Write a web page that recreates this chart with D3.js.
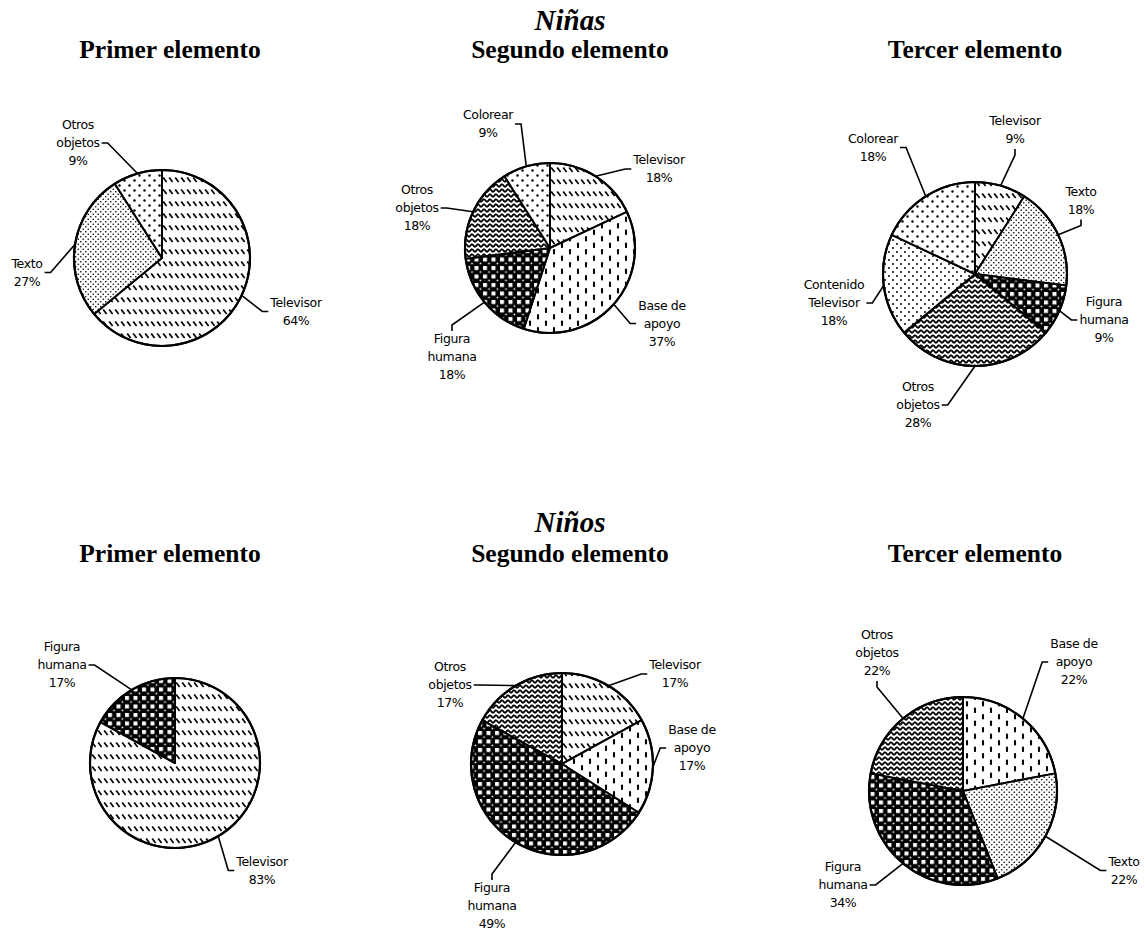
<!DOCTYPE html>
<html>
<head>
<meta charset="utf-8">
<script src="https://cdn.jsdelivr.net/npm/d3@7"></script>
<style>
  body { margin: 0; background: #fff; }
  svg { display: block; }
</style>
</head>
<body>
<svg id="chart" width="1145" height="930"></svg>
<script>
// ---- Data: Niñas ----
const ninasPrimerCats = ["Televisor", "Texto", "Otros objetos"];
const ninasPrimerVals = [64, 27, 9];

const ninasSegundoCats = ["Televisor", "Base de apoyo", "Figura humana", "Otros objetos", "Colorear"];
const ninasSegundoVals = [18, 37, 18, 18, 9];

const ninasTercerCats = ["Televisor", "Texto", "Figura humana", "Otros objetos", "Contenido Televisor", "Colorear"];
const ninasTercerVals = [9, 18, 9, 28, 18, 18];

// ---- Data: Niños ----
const ninosPrimerCats = ["Televisor", "Figura humana"];
const ninosPrimerVals = [83, 17];

const ninosSegundoCats = ["Televisor", "Base de apoyo", "Figura humana", "Otros objetos"];
const ninosSegundoVals = [17, 17, 49, 17];

const ninosTercerCats = ["Base de apoyo", "Texto", "Figura humana", "Otros objetos"];
const ninosTercerVals = [22, 22, 34, 22];

const groupTitles = ["Niñas", "Niños"];
const panelTitles = ["Primer elemento", "Segundo elemento", "Tercer elemento"];

// ---- Styling ----
const patternFor = {
  "Televisor": "p-tv",
  "Texto": "p-fine",
  "Otros objetos": "p-wave",
  "Base de apoyo": "p-vdash",
  "Figura humana": "p-check",
  "Colorear": "p-sparse",
  "Contenido Televisor": "p-medium"
};

const labelLines = {
  "Televisor": ["Televisor"],
  "Texto": ["Texto"],
  "Otros objetos": ["Otros", "objetos"],
  "Base de apoyo": ["Base de", "apoyo"],
  "Figura humana": ["Figura", "humana"],
  "Colorear": ["Colorear"],
  "Contenido Televisor": ["Contenido", "Televisor"]
};

// Panel layout: pie centre, radius, and per-label placement (offset from centre + leader side)
const panels = [
  { cats: ninasPrimerCats, vals: ninasPrimerVals, cx: 162, cy: 258, r: 88,
    fillOverride: { "Otros objetos": "p-sparse" },
    labels: [[134, 53.5, "L"], [-135, 14.5, "R"], [-84, -115, "R"]] },
  { cats: ninasSegundoCats, vals: ninasSegundoVals, cx: 550, cy: 248, r: 85,
    labels: [[109, -79, "L"], [112, 75.5, "L"], [-98, 109, "T"], [-133, -40, "R"], [-62, -124, "R"]] },
  { cats: ninasTercerCats, vals: ninasTercerVals, cx: 975, cy: 274, r: 92,
    labels: [[40, -144, "B"], [106, -73.5, "B"], [129, 46, "L"], [-57, 131, "R"], [-141, 29, "R"], [-102, -126.5, "R"]] },
  { cats: ninosPrimerCats, vals: ninosPrimerVals, cx: 175, cy: 763, r: 85,
    labels: [[87, 107.5, "L"], [-113, -98, "R"]] },
  { cats: ninosSegundoCats, vals: ninosSegundoVals, cx: 562, cy: 764, r: 91,
    labels: [[113, -90, "L"], [130, -16, "L"], [-70, 142, "T"], [-112, -79, "R"]] },
  { cats: ninosTercerCats, vals: ninosTercerVals, cx: 963, cy: 791, r: 94,
    labels: [[111, -129, "L"], [161, 79.5, "L"], [-120, 94, "R"], [-86, -138, "B"]] }
];

const titleRows = [
  { group: 30, panel: 58 },
  { group: 532, panel: 562 }
];
const titleX = [170, 570, 975];
const groupX = 570;

const svg = d3.select("#chart");
const defs = svg.append("defs");

// ---- Fill patterns ----
function pattern(id, w, h) {
  const p = defs.append("pattern").attr("id", id)
    .attr("patternUnits", "userSpaceOnUse").attr("width", w).attr("height", h);
  p.append("rect").attr("width", w).attr("height", h).attr("fill", "#fff");
  return p;
}
// Televisor: rows of short diagonal strokes
pattern("p-tv", 6, 12).append("line")
  .attr("x1", 1.2).attr("y1", 3.5).attr("x2", 4.6).attr("y2", 8)
  .attr("stroke", "#000").attr("stroke-width", 1.7);
// Base de apoyo: staggered short vertical dashes
{
  const p = pattern("p-vdash", 16, 13);
  const dash = (x, y1, y2) => p.append("line").attr("x1", x).attr("x2", x).attr("y1", y1).attr("y2", y2)
    .attr("stroke", "#000").attr("stroke-width", 2.1).attr("stroke-linecap", "round");
  dash(4, 2, 5.5);
  dash(12, 8.5, 12);
}
// Figura humana: dark field with white squares and small white specks
{
  const p = pattern("p-check", 8.5, 8.5);
  p.select("rect").attr("fill", "#000");
  p.append("rect").attr("x", 1).attr("y", 1).attr("width", 4).attr("height", 4).attr("fill", "#fff");
  p.append("circle").attr("cx", 7).attr("cy", 7).attr("r", 0.9).attr("fill", "#fff");
}
// Otros objetos: wavy lines
pattern("p-wave", 6, 5).append("path")
  .attr("d", "M-1.5,3.4 Q0,0 1.5,2.5 T4.5,2.5 T7.5,2.5")
  .attr("fill", "none").attr("stroke", "#000").attr("stroke-width", 1.8);
// Dot fields of varying density
function dots(id, size, rad) {
  const p = pattern(id, size, size);
  p.append("circle").attr("cx", size / 4).attr("cy", size / 4).attr("r", rad).attr("fill", "#000");
  p.append("circle").attr("cx", size * 3 / 4).attr("cy", size * 3 / 4).attr("r", rad).attr("fill", "#000");
}
dots("p-fine", 5, 0.8);
dots("p-medium", 8, 1.0);
dots("p-sparse", 10, 1.2);

// ---- Titles ----
titleRows.forEach((row, gi) => {
  svg.append("text")
    .attr("x", groupX).attr("y", row.group)
    .attr("text-anchor", "middle")
    .style("font-family", "'Liberation Serif', 'Times New Roman', serif")
    .style("font-weight", "bold").style("font-style", "italic")
    .style("font-size", "29px")
    .text(groupTitles[gi]);
  panelTitles.forEach((t, pi) => {
    svg.append("text")
      .attr("x", titleX[pi]).attr("y", row.panel)
      .attr("text-anchor", "middle")
      .style("font-family", "'Liberation Serif', 'Times New Roman', serif")
      .style("font-weight", "bold")
      .style("font-size", "25.5px")
      .text(t);
  });
});

// ---- Pies ----
const pie = d3.pie().sort(null).value(d => d.v).startAngle(0).endAngle(2 * Math.PI);
const lineH = 18;

panels.forEach(panel => {
  const data = panel.cats.map((c, i) => ({ c, v: panel.vals[i] }));
  const arcs = pie(data);
  const arc = d3.arc().innerRadius(0).outerRadius(panel.r);
  const g = svg.append("g").attr("transform", `translate(${panel.cx},${panel.cy})`);

  g.selectAll("path.slice").data(arcs).join("path")
    .attr("class", "slice")
    .attr("d", arc)
    .attr("fill", d => `url(#${(panel.fillOverride && panel.fillOverride[d.data.c]) || patternFor[d.data.c]})`)
    .attr("stroke", "#000").attr("stroke-width", 2).attr("stroke-linejoin", "round");

  g.append("circle").attr("r", panel.r).attr("fill", "none")
    .attr("stroke", "#000").attr("stroke-width", 2.2);

  arcs.forEach((a, i) => {
    const [dx, dy, side] = panel.labels[i];
    const lines = labelLines[a.data.c].concat([`${a.data.v}%`]);
    const lg = g.append("g");
    const txt = lg.append("text")
      .attr("text-anchor", "middle")
      .style("font-family", "'DejaVu Sans', Verdana, sans-serif")
      .style("font-size", "12.5px")
      .style("letter-spacing", "-0.35px")
      .attr("fill", "#000");
    lines.forEach((ln, k) => {
      txt.append("tspan")
        .attr("x", dx)
        .attr("y", dy + (k - (lines.length - 1) / 2) * lineH)
        .attr("dy", "0.35em")
        .text(ln);
    });
    let halfW = 0;
    txt.selectAll("tspan").each(function () {
      halfW = Math.max(halfW, this.getComputedTextLength() / 2);
    });
    const halfH = lines.length * lineH / 2;

    // leader from the slice's mid-angle on the rim, elbowing into the label
    const mid = (a.startAngle + a.endAngle) / 2;
    const p0 = [panel.r * Math.sin(mid), -panel.r * Math.cos(mid)];
    let anchor, elbow;
    if (side === "L") { anchor = [dx - halfW - 2, dy]; elbow = [anchor[0] - 6, dy]; }
    else if (side === "R") { anchor = [dx + halfW + 2, dy]; elbow = [anchor[0] + 6, dy]; }
    else if (side === "T") { anchor = [dx, dy - halfH + 1]; elbow = [dx, anchor[1] - 6]; }
    else { anchor = [dx, dy + halfH + 1]; elbow = [dx, anchor[1] + 6]; }

    lg.insert("path", "text")
      .attr("d", d3.line()([p0, elbow, anchor]))
      .attr("fill", "none").attr("stroke", "#000").attr("stroke-width", 1.6);
  });
});
</script>
</body>
</html>
